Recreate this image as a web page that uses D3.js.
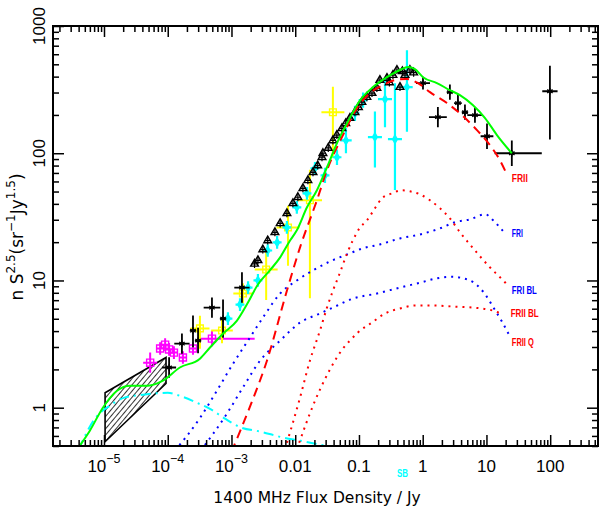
<!DOCTYPE html>
<html>
<head>
<meta charset="utf-8">
<script src="https://cdn.jsdelivr.net/npm/d3@7"></script>
<style>
body { margin: 0; background: #fff; }
text { font-family: "Liberation Sans", Arial, sans-serif; }
</style>
</head>
<body>
<svg width="599" height="518"></svg>
<script>
// axis ticks and labels
const xTicks = [1e-5, 1e-4, 1e-3, 0.01, 0.1, 1, 10, 100];
const xTickLabels = [["10", "\u22125"], ["10", "\u22124"], ["10", "\u22123"], ["0.01"], ["0.1"], ["1"], ["10"], ["100"]];
const yTicks = [1, 10, 100, 1000];
const yTickLabels = ["1", "10", "100", "1000"];

// data points: [S, N, dexLeft, dexRight, dexDown, dexUp]
const triangles = [[0.0023,13.5],[0.0026,14.4],[0.0031,17.5],[0.0037,20.6],[0.0048,23.9],[0.0058,28.1],[0.0074,33.7],
  [0.0092,40.4],[0.011,45.1],[0.0132,53],[0.0158,61.2],[0.019,70.8],[0.0225,80],[0.0263,93],[0.0272,100],[0.033,110],
  [0.039,126],[0.045,139],[0.054,157],[0.062,172],[0.072,189],[0.0865,210],[0.098,230],[0.111,252],[0.133,276],
  [0.16,297],[0.191,325],[0.213,376],[0.275,390],[0.30,360],[0.341,411],[0.394,451],[0.44,331],[0.48,440],
  [0.527,411],[0.63,451],[0.72,430]];

const blackPts = [
  [1.05e-4, 2.07, .11, .11, .08, .08], [1.67e-4, 3.19, .12, .12, .08, .08], [2.49e-4, 4.03, .05, .05, .13, .12],
  [2.99e-4, 3.37, .05, .05, .1, .1], [4.94e-4, 6.12, .13, .13, .08, .08], [7.37e-4, 5.02, .05, .05, .15, .15],
  [1.46e-3, 8.8, .12, .12, .12, .12],
  [1.01, 356, .11, .11, .05, .05], [1.73, 192, .14, .14, .08, .08], [2.67, 302, .05, .05, .06, .06],
  [3.57, 248, .06, .06, .07, .07], [4.6, 210, .05, .05, .06, .06], [6.6, 199, .12, .12, .06, .06],
  [10.2, 136, .1, .1, .1, .1], [25, 100, .27, .47, .1, .1], [99, 307, .12, .12, .38, .2]
];

const cyanPts = [
  [8.8e-4, 5.02, .07, .07, .05, .05], [1.36e-3, 6.47, .07, .07, .05, .05], [1.82e-3, 8.8, .07, .07, .05, .05],
  [2.6e-3, 10, .07, .07, .05, .05], [3.7e-3, 17.2, .07, .07, .05, .05], [5.2e-3, 19.9, .07, .07, .05, .05],
  [7.4e-3, 26.1, .07, .07, .05, .05], [0.0106, 37.6, .07, .07, .05, .05], [0.0153, 48.4, .07, .07, .05, .05],
  [0.0204, 76.2, .07, .07, .05, .05], [0.0293, 67.1, .07, .07, .06, .06], [0.0452, 93, .07, .07, .06, .06],
  [0.0625, 126, .09, .09, .1, .1], [0.0865, 206, .07, .07, .06, .06], [0.116, 261, .07, .07, .06, .06],
  [0.178, 134, .11, .11, .24, .2], [0.256, 266, .11, .11, .22, .17], [0.367, 129, .11, .11, .4, .44],
  [0.566, 331, .09, .09, .35, .29]
];

const yellowPts = [
  [3.2e-4, 4.2, .15, .15, .16, .1], [7.1e-4, 4.04, .17, .17, .1, .1], [1.51e-3, 7.9, .15, .15, .08, .08],
  [3.5e-3, 12.2, .18, .18, .24, .15], [7.7e-3, 26.1, .18, .18, .3, .17], [0.017, 42.7, .19, .19, .77, .24],
  [0.039, 210, .18, .18, .36, .2]
];

const magentaPts = [
  [5.3e-5, 2.26, .11, .11, .08, .08], [7.6e-5, 2.92, .05, .05, .05, .05], [9.1e-5, 3.13, .05, .05, .05, .05],
  [1.05e-4, 2.87, .05, .05, .05, .05], [1.25e-4, 2.71, .05, .05, .05, .05], [1.73e-4, 2.48, .05, .05, .05, .05],
  [2.49e-4, 2.92, .05, .05, .05, .05], [4.94e-4, 3.49, .19, .67, .06, .06]
];

const hatchBox = [[1.04e-5, 1.31], [9.4e-5, 2.48], [9.4e-5, 1.55], [1.04e-5, 0.54]];

// model curves: [S, N]
const total = [[3.9e-6,0.48],[6.0e-6,0.66],[9.6e-6,1.0],[1.6e-5,1.36],[2.56e-5,1.49],[4.9e-5,1.49],[8.4e-5,1.63],
  [1.55e-4,2.07],[3.2e-4,2.43],[4.6e-4,2.97],[7.4e-4,3.83],[1.22e-3,4.84],[1.75e-3,6.5],[2.6e-3,9.3],[4.0e-3,12.0],
  [5.8e-3,15.2],[8.3e-3,20.6],[0.0106,24.8],[0.0153,37.6],[0.0219,51.2],[0.0315,77.6],[0.0452,120],[0.0649,172],
  [0.104,261],[0.166,331],[0.275,396],[0.44,451],[0.587,476],[0.755,458],[1.01,396],[1.67,356],[2.67,313],
  [3.84,286],[6.1,239],[9.5,189],[14.6,139],[25,100]];
const fr2 = [[1.0e-3,0.45],[1.95e-3,1.02],[3.6e-3,2.34],[7.4e-3,8.3],[0.0119,18.2],[0.0219,42.7],[0.0315,73.5],
  [0.0561,139],[0.093,226],[0.149,297],[0.238,343],[0.367,376],[0.566,383],[0.84,356],[1.3,302],[2.4,248],
  [4.13,199],[7.1,152],[11.3,116],[16.3,88],[20.2,70.8]];
const fr1 = [[1.3e-4,0.46],[3.2e-4,0.83],[5.9e-4,1.36],[1.06e-3,2.22],[1.95e-3,3.56],[3.35e-3,5.4],[5.8e-3,7.9],
  [0.0106,10.0],[0.019,12.0],[0.035,14.1],[0.065,16.0],[0.116,17.9],[0.213,19.2],[0.44,21.4],[0.906,23.0],
  [1.87,25.7],[3.2,28.7],[5.5,30.2],[9.5,33.1],[13.6,28.7],[19.5,23.4]];
const fr1bl = [[3.3e-4,0.46],[8.5e-4,0.90],[1.51e-3,1.44],[2.8e-3,2.34],[5.8e-3,3.37],[0.0119,4.67],[0.0244,5.5],
  [0.039,6.12],[0.08,7.2],[0.191,7.9],[0.44,8.8],[0.906,9.6],[1.67,10.4],[2.88,10.7],[4.28,10.4],[6.6,9.5],
  [9.5,7.8],[12.6,6.24],[17.5,4.75],[23.4,3.62]];
const fr2q = [[6.9e-3,0.47],[0.0119,1.2],[0.017,2.34],[0.0244,4.03],[0.0315,6.12],[0.039,8.3],[0.050,11.4],
  [0.065,16.3],[0.08,20.6],[0.104,26.1],[0.133,29.6],[0.178,36.9],[0.23,44.3],[0.33,48.4],[0.473,51.2],
  [0.63,50.2],[0.906,47.5],[1.3,42.7],[1.87,36.9],[2.67,30.8],[3.84,23.9],[5.5,19.2],[7.9,15.5],[11.3,12.7],
  [16.3,10.6],[20.2,9.5]];
const fr2bl = [[0.0106,0.47],[0.0204,1.13],[0.042,2.34],[0.0561,2.92],[0.0723,3.37],[0.0964,3.9],[0.16,4.67],
  [0.256,5.5],[0.44,6.02],[0.755,6.36],[1.45,6.36],[2.99,6.24],[6.14,6.12],[12.6,5.8],[18.2,5.4]];
const sb = [[4.0e-6,0.47],[7.2e-6,0.82],[1.24e-5,1.04],[2.1e-5,1.2],[4.4e-5,1.27],[1.0e-4,1.31],[1.55e-4,1.24],
  [2.9e-4,1.09],[4.6e-4,0.98],[7.9e-4,0.82],[1.4e-3,0.70],[2.8e-3,0.65],[5.8e-3,0.59],[0.0119,0.55],[0.039,0.49]];

const curveLabels = [
  {text: "FRII", at: [25, 64], color: "red", w: 16},
  {text: "FRI", at: [25, 23.4], color: "blue", w: 11},
  {text: "FRI BL", at: [25, 8.46], color: "blue", w: 25},
  {text: "FRII BL", at: [24, 5.57], color: "red", w: 28},
  {text: "FRII Q", at: [25, 3.3], color: "red", w: 22}
];

let svg = d3.select("svg");
const L = 53, R = 598, T = 26, B = 446;

const x = d3.scaleLog().domain([Math.pow(10, -5.8), Math.pow(10, 2.75)]).range([L, R]);
const y = d3.scaleLog().domain([0.5, 1000]).range([B, T]);

svg.append("defs").append("clipPath").attr("id", "clip")
  .append("rect").attr("x", L).attr("y", T).attr("width", R - L).attr("height", B - T);

const hatch = svg.select("defs").append("pattern")
  .attr("id", "hatch").attr("patternUnits", "userSpaceOnUse")
  .attr("width", 4).attr("height", 4).attr("patternTransform", "rotate(40)");
hatch.append("line").attr("x1", 0).attr("y1", 0).attr("x2", 0).attr("y2", 4)
  .attr("stroke", "black").attr("stroke-width", 1.6);

let plot = svg.append("g").attr("clip-path", "url(#clip)");

// hatched box
plot.append("path")
  .attr("d", "M" + hatchBox.map(d => x(d[0]) + "," + y(d[1])).join("L") + "Z")
  .attr("fill", "url(#hatch)")
  .attr("stroke", "black").attr("stroke-width", 1.6);

// error bar crosses
function crosses(data, color, w) {
  plot.append("g").selectAll("path").data(data).enter().append("path")
    .attr("d", d => {
      let cx = x(d[0]), cy = y(d[1]);
      return "M" + x(d[0] / Math.pow(10, d[2])) + "," + cy + "H" + x(d[0] * Math.pow(10, d[3])) +
        "M" + cx + "," + y(d[1] / Math.pow(10, d[4])) + "V" + y(d[1] * Math.pow(10, d[5]));
    })
    .attr("stroke", color).attr("stroke-width", w).attr("fill", "none");
}
function markers(data, type, size, fill, stroke, sw) {
  plot.append("g").selectAll("path").data(data).enter().append("path")
    .attr("transform", d => "translate(" + x(d[0]) + "," + y(d[1]) + ")")
    .attr("d", d3.symbol().type(type).size(size))
    .attr("fill", fill).attr("stroke", stroke).attr("stroke-width", sw);
}

crosses(magentaPts, "#ff00ff", 2);
markers(magentaPts, d3.symbolSquare, 50, "none", "#ff00ff", 1.4);
crosses(yellowPts, "#ffff00", 2);
markers(yellowPts, d3.symbolSquare, 45, "none", "#ffff00", 1.4);
crosses(cyanPts, "#00ffff", 2.2);
markers(cyanPts, d3.symbolDiamond, 35, "#00ffff", "none", 0);
crosses(blackPts, "black", 1.8);
markers(blackPts, d3.symbolAsterisk, 28, "none", "black", 1.3);

// triangles with small error bars
plot.append("g").selectAll("path").data(triangles).enter().append("path")
  .attr("d", d => {
    let cx = x(d[0]), cy = y(d[1]);
    return "M" + (cx - 3) + "," + cy + "H" + (cx + 3) + "M" + cx + "," + (cy - 4) + "V" + (cy + 4);
  })
  .attr("stroke", "black").attr("stroke-width", 1.2);
markers(triangles, d3.symbolTriangle, 26, "none", "black", 1.4);

// model curves
let line = d3.line().x(d => x(d[0])).y(d => y(d[1])).curve(d3.curveMonotoneX);
function curve(data, color, dash) {
  plot.append("path").datum(data)
    .attr("d", line)
    .attr("fill", "none").attr("stroke", color).attr("stroke-width", 2)
    .attr("stroke-dasharray", dash);
}
curve(sb, "#00ffff", "10,5,2,5");
curve(fr1, "#0000ff", "2,5");
curve(fr1bl, "#0000ff", "2,5");
curve(fr2q, "#ff0000", "2,5");
curve(fr2bl, "#ff0000", "2,5");
curve(fr2, "#ff0000", "9,6");
curve(total, "#00ff00", null);

// curve labels
svg.append("g").selectAll("text").data(curveLabels).enter().append("text")
  .attr("x", d => x(d.at[0])).attr("y", d => y(d.at[1]) + 4)
  .attr("fill", d => d.color)
  .attr("font-size", 11).attr("font-weight", "bold")
  .attr("textLength", d => d.w).attr("lengthAdjust", "spacingAndGlyphs")
  .text(d => d.text);

svg.append("text").attr("x", 397).attr("y", 477)
  .attr("fill", "#00ffff").attr("font-size", 11).attr("font-weight", "bold")
  .attr("textLength", 11).attr("lengthAdjust", "spacingAndGlyphs")
  .text("SB");

// frame
svg.append("rect").attr("x", L).attr("y", T).attr("width", R - L).attr("height", B - T)
  .attr("fill", "none").attr("stroke", "black").attr("stroke-width", 2);

// ticks (inside, all four sides)
let xMinor = x.ticks().filter(v => Math.abs(Math.log10(v) - Math.round(Math.log10(v))) > 1e-6);
let yMinor = y.ticks().filter(v => Math.abs(Math.log10(v) - Math.round(Math.log10(v))) > 1e-6);

function drawAxis(axis, pos, ticks, size) {
  let g = svg.append("g").attr("transform", pos)
    .call(axis.tickValues(ticks).tickSize(size).tickFormat(""));
  g.select(".domain").remove();
  g.selectAll("line").attr("stroke", "black").attr("stroke-width", 1.5);
}
drawAxis(d3.axisBottom(x), "translate(0," + B + ")", xTicks, -11);
drawAxis(d3.axisBottom(x), "translate(0," + B + ")", xMinor, -6);
drawAxis(d3.axisTop(x), "translate(0," + T + ")", xTicks, -11);
drawAxis(d3.axisTop(x), "translate(0," + T + ")", xMinor, -6);
drawAxis(d3.axisLeft(y), "translate(" + L + ",0)", yTicks, -11);
drawAxis(d3.axisLeft(y), "translate(" + L + ",0)", yMinor, -6);
drawAxis(d3.axisRight(y), "translate(" + R + ",0)", yTicks, -11);
drawAxis(d3.axisRight(y), "translate(" + R + ",0)", yMinor, -6);

// x tick labels
xTicks.forEach((v, i) => {
  let t = svg.append("text").attr("x", x(v)).attr("y", 472)
    .attr("text-anchor", "middle").attr("font-size", 17);
  t.append("tspan").text(xTickLabels[i][0]);
  if (xTickLabels[i][1]) t.append("tspan").attr("dy", -9).attr("font-size", 12.5).text(xTickLabels[i][1]);
});

// y tick labels (rotated)
yTicks.forEach((v, i) => {
  svg.append("text").attr("transform", "translate(45," + y(v) + ") rotate(-90)")
    .attr("text-anchor", "middle").attr("font-size", 17)
    .text(yTickLabels[i]);
});

// axis titles
svg.append("text").attr("x", 317).attr("y", 503).attr("text-anchor", "middle")
  .attr("font-size", 15.5).style("font-family", "'DejaVu Sans', sans-serif")
  .text("1400 MHz Flux Density / Jy");

let yt = svg.append("text").attr("transform", "translate(23,237) rotate(-90)")
  .attr("text-anchor", "middle").attr("font-size", 17).style("font-family", "'DejaVu Sans', sans-serif");
yt.append("tspan").text("n S");
yt.append("tspan").attr("dy", -8).attr("font-size", 12).text("2.5");
yt.append("tspan").attr("dy", 8).text("(sr");
yt.append("tspan").attr("dy", -8).attr("font-size", 12).text("\u22121");
yt.append("tspan").attr("dy", 8).text("Jy");
yt.append("tspan").attr("dy", -8).attr("font-size", 12).text("1.5");
yt.append("tspan").attr("dy", 8).text(")");
</script>
</body>
</html>
